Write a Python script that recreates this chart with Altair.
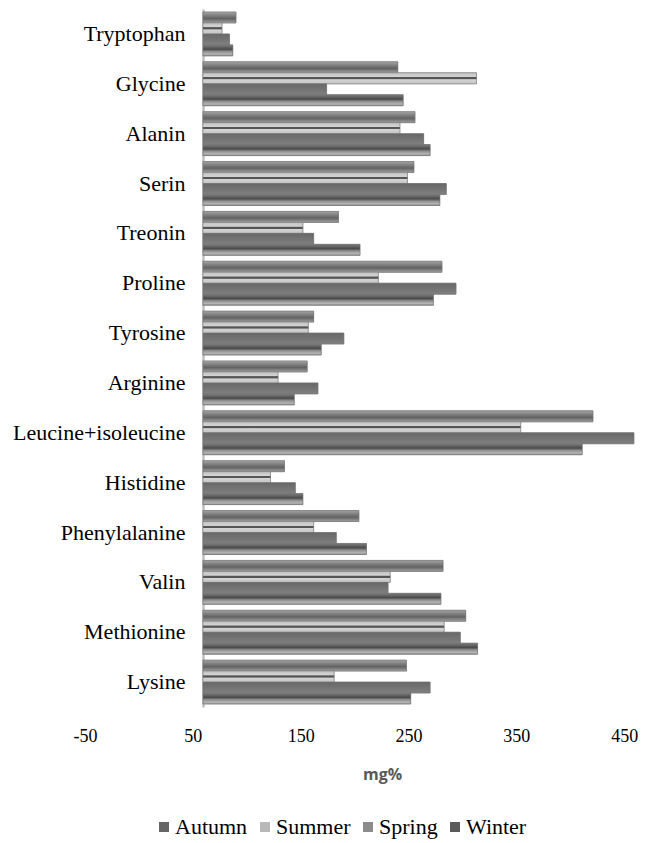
import altair as alt
import pandas as pd

amino = ["Tryptophan", "Glycine", "Alanin", "Serin", "Treonin", "Proline", "Tyrosine",
         "Arginine", "Leucine+isoleucine", "Histidine", "Phenylalanine", "Valin",
         "Methionine", "Lysine"]
seasons = ["Autumn", "Summer", "Spring", "Winter"]

autumn = [90, 240, 256, 255, 185, 281, 162, 156, 421, 135, 204, 282, 303, 248]
summer = [77, 313, 242, 249, 152, 222, 157, 129, 354, 122, 162, 233, 283, 181]
spring = [84, 174, 264, 285, 162, 294, 190, 166, 459, 145, 183, 231, 298, 270]
winter = [87, 245, 270, 279, 205, 273, 169, 144, 411, 152, 211, 280, 314, 252]

BASE = 59.4  # value where the vertical axis crosses

x_ticks = [-50, 50, 150, 250, 350, 450]

rows = []
for s, vals in zip(seasons, [autumn, summer, spring, winter]):
    for a, v in zip(amino, vals):
        rows.append({"amino": a, "season": s, "value": v, "base": BASE})
df = pd.DataFrame(rows)

SERIF = "Liberation Serif"

xenc = alt.X("value:Q", scale=alt.Scale(domain=[-50, 460], nice=False, zero=False),
             axis=alt.Axis(values=x_ticks, grid=False, domain=False, ticks=False,
                           labelFont=SERIF, labelFontSize=18, labelColor="#000",
                           labelPadding=20, labelFlush=False, labelExpr="datum.value + ''",
                           title="mg%", titleFont="Open Sans", titleFontWeight="bold",
                           titleColor="#595959", titleFontSize=16, titlePadding=21,
                           titleX=297))
yenc = alt.Y("amino:N", sort=amino,
             scale=alt.Scale(paddingInner=0.12, paddingOuter=0.06),
             axis=alt.Axis(title=None, offset=-118, domainColor="#bfbfbf", domainWidth=2.5,
                           ticks=False, labelPadding=18, labelFont=SERIF, labelFontSize=22,
                           labelColor="#000", labelLimit=300))
yoff = alt.YOffset("season:N", sort=seasons,
                   scale=alt.Scale(domain=seasons, paddingInner=0, paddingOuter=0))

base = alt.Chart(df)

main = base.mark_bar(stroke="#777", strokeWidth=0.5).encode(
    x=xenc, x2="base:Q", y=yenc, yOffset=yoff,
    color=alt.Color("season:N", sort=seasons,
                    scale=alt.Scale(domain=seasons,
                                    range=["#666666", "#b8b8b8", "#8a8a8a", "#5a5a5a"]),
                    legend=alt.Legend(orient="none", legendX=68, legendY=807,
                                      direction="horizontal", title=None,
                                      symbolType="square", symbolSize=100,
                                      symbolStrokeWidth=0, labelFont=SERIF,
                                      labelFontSize=22, labelColor="#000",
                                      columnPadding=6, labelOffset=0))
)

def grad(stops):
    return {"gradient": "linear", "x1": 0, "y1": 0, "x2": 0, "y2": 1,
            "stops": [{"offset": o, "color": c} for o, c in stops]}

grads = {
    "Autumn": grad([(0, "#a4a4a4"), (0.3, "#828282"), (0.6, "#626262"), (1, "#a0a0a0")]),
    "Summer": grad([(0, "#c2c2c2"), (0.36, "#d4d4d4"), (0.42, "#555"), (0.56, "#555"),
                    (0.62, "#d4d4d4"), (1, "#c4c4c4")]),
    "Spring": grad([(0, "#686868"), (0.5, "#737373"), (1, "#808080")]),
    "Winter": grad([(0, "#7e7e7e"), (0.4, "#4a4a4a"), (0.6, "#8e8e8e"), (0.85, "#b4b4b4"),
                    (1, "#8e8e8e")]),
}

layers = [main]
for s in seasons:
    layers.append(
        base.transform_filter(alt.datum.season == s)
        .mark_bar(fill=grads[s], stroke="#777", strokeWidth=0.5)
        .encode(x="value:Q", x2="base:Q", y=alt.Y("amino:N", sort=amino), yOffset=yoff)
    )

chart = alt.layer(*layers).properties(
    width=550, height=698,
    background="white",
    autosize=alt.AutoSizeParams(type="none"),
    padding={"left": 85, "top": 9, "right": 31, "bottom": 136},
).configure_view(strokeWidth=0, stroke="transparent")

chart.save("out.html", embed_options={"renderer": "svg", "actions": False})
